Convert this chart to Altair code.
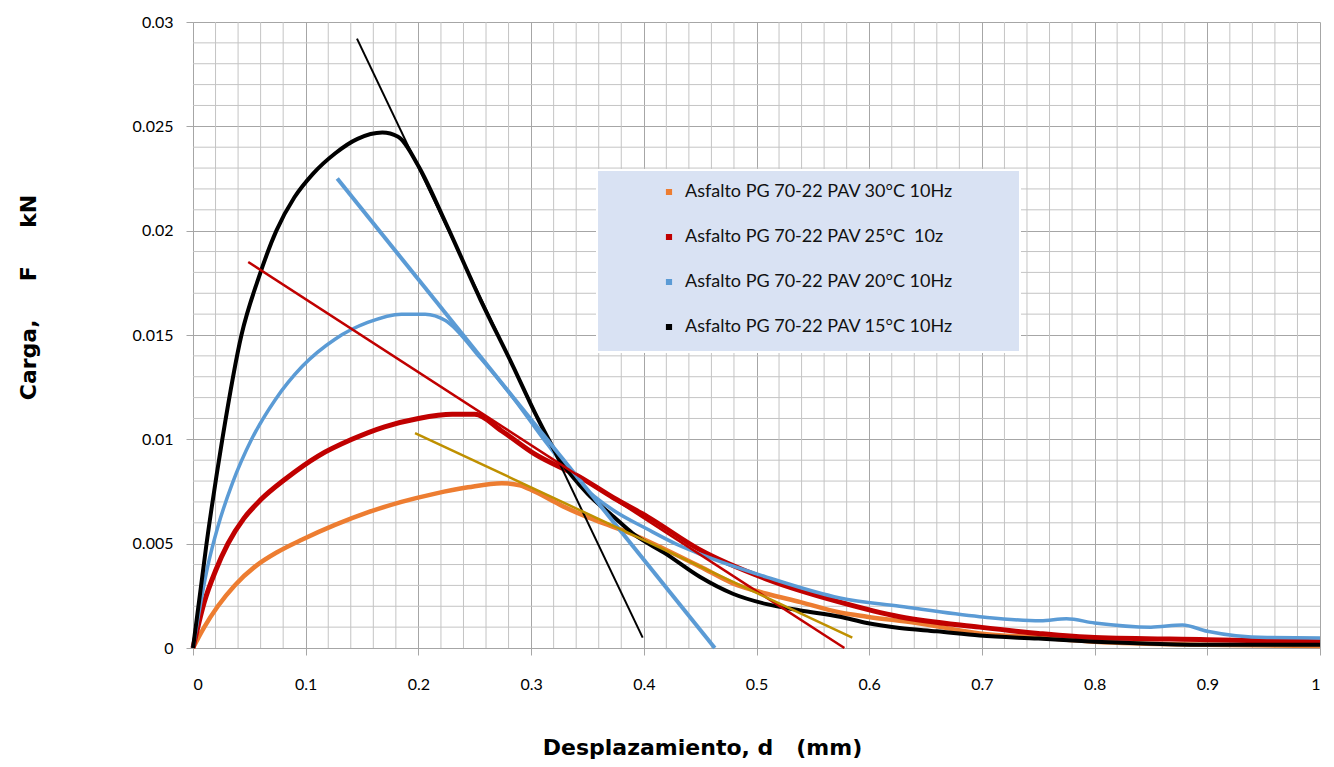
import altair as alt
import pandas as pd
import numpy as np

# ---- data ----
series_names = [
    "Asfalto PG 70-22 PAV 30°C 10Hz",
    "Asfalto PG 70-22 PAV 25°C\u00a0 10z",
    "Asfalto PG 70-22 PAV 20°C 10Hz",
    "Asfalto PG 70-22 PAV 15°C 10Hz",
]
series_colors = ["#ED7D31", "#C00000", "#5B9BD5", "#000000"]

x30 = [0, 0.01, 0.022, 0.037, 0.055, 0.075, 0.097, 0.126, 0.155, 0.185, 0.215, 0.244, 0.274, 0.29, 0.303, 0.328,
       0.358, 0.388, 0.42, 0.45, 0.479, 0.509, 0.539, 0.574, 0.598, 0.642, 0.698, 0.75, 0.8, 0.9, 1.0]
y30 = [0, 0.0010, 0.0020, 0.0030, 0.0039, 0.0046, 0.0052, 0.0059, 0.0065, 0.0070, 0.0074, 0.0077, 0.0079, 0.0078,
       0.0075, 0.0068, 0.0061, 0.0055, 0.0047, 0.0039, 0.0031, 0.0026, 0.0022, 0.0017, 0.0015, 0.0012, 0.0007,
       0.0005, 0.0003, 0.00015, 0.0001]

x25 = [0, 0.01, 0.02, 0.031, 0.045, 0.06, 0.082, 0.111, 0.141, 0.170, 0.2, 0.23, 0.25, 0.274, 0.303, 0.343, 0.373,
       0.403, 0.45, 0.509, 0.574, 0.627, 0.698, 0.75, 0.8, 0.9, 1.0]
y25 = [0, 0.0022, 0.0037, 0.0050, 0.0062, 0.0071, 0.0081, 0.0092, 0.0100, 0.0106, 0.0110, 0.0112, 0.0112, 0.0104,
       0.0093, 0.0082, 0.0072, 0.0063, 0.0047, 0.0033, 0.0022, 0.0015, 0.0010, 0.0007, 0.0005, 0.0004, 0.0003]

x20 = [0, 0.004, 0.013, 0.022, 0.035, 0.052, 0.073, 0.097, 0.126, 0.155, 0.185, 0.206, 0.224, 0.255, 0.284, 0.314,
       0.343, 0.373, 0.403, 0.432, 0.45, 0.509, 0.574, 0.627, 0.698, 0.752, 0.775, 0.8, 0.85, 0.878, 0.9, 0.953, 1.0]
y20 = [0, 0.0013, 0.0039, 0.0058, 0.0079, 0.0100, 0.0119, 0.0135, 0.0148, 0.0156, 0.0160, 0.0160, 0.0157, 0.0139,
       0.0120, 0.0098, 0.0079, 0.0066, 0.0057, 0.0049, 0.0045, 0.0034, 0.0024, 0.0020, 0.0015, 0.0013, 0.0014,
       0.0012, 0.0010, 0.0011, 0.0008, 0.0005, 0.00048]

x15 = [0, 0.012, 0.026, 0.043, 0.058, 0.074, 0.09, 0.106, 0.126, 0.146, 0.168, 0.182, 0.2, 0.224, 0.255,
       0.284, 0.305, 0.326, 0.35, 0.373, 0.39, 0.42, 0.45, 0.479, 0.509, 0.539, 0.574, 0.598, 0.627, 0.66, 0.698,
       0.75, 0.8, 0.85, 0.9, 0.95, 1.0]
y15 = [0, 0.0050, 0.0100, 0.0150, 0.0177, 0.0200, 0.0216, 0.0227, 0.0237, 0.0244, 0.0247, 0.0245, 0.0231,
       0.0204, 0.0167, 0.0135, 0.0111, 0.0090, 0.0074, 0.0063, 0.0055, 0.0045, 0.0034, 0.0026, 0.0021, 0.0018,
       0.0015, 0.0012, 0.00096, 0.0008, 0.0006, 0.00045, 0.0003, 0.0002, 0.00015, 0.00015, 0.00015]

# tangent (trend) lines: start / end points
trend_x1 = [0.1455, 0.128, 0.049, 0.197]
trend_y1 = [0.0292, 0.0225, 0.0185, 0.0103]
trend_x2 = [0.399, 0.463, 0.578, 0.585]
trend_y2 = [0.0005, 0.0, 0.0, 0.0005]
trend_colors = ["#000000", "#5B9BD5", "#C00000", "#BF9000"]
trend_widths = [2, 4, 2.5, 2.5]

x_ticks = [0, 0.1, 0.2, 0.3, 0.4, 0.5, 0.6, 0.7, 0.8, 0.9, 1.0]
y_ticks = [0, 0.005, 0.01, 0.015, 0.02, 0.025, 0.03]
x_minor = [round(v, 3) for v in np.arange(0.02, 1.0, 0.02) if round(v * 50) % 5 != 0]
y_minor = [round(v, 4) for v in np.arange(0.001, 0.03, 0.001) if round(v * 1000) % 5 != 0]

W, H = 1127, 626

frames = []
for name, xs, ys in zip(series_names, [x30, x25, x20, x15], [y30, y25, y20, y15]):
    frames.append(pd.DataFrame({"d": xs, "F": ys, "serie": name}))
df = pd.concat(frames, ignore_index=True)

xscale = alt.Scale(domain=[0, 1], nice=False, zero=False)
yscale = alt.Scale(domain=[0, 0.03], nice=False, zero=False)

color = alt.Color(
    "serie:N",
    scale=alt.Scale(domain=series_names, range=series_colors),
    legend=alt.Legend(
        orient="none", legendX=467, legendY=161, title=None,
        symbolType="square", symbolSize=10, symbolStrokeWidth=3,
        labelFont="Lato", labelFontSize=18, labelColor="#111111",
        rowPadding=27, labelOffset=7, labelLimit=400,
    ),
)

x_enc = alt.X(
    "d:Q", scale=xscale,
    axis=alt.Axis(
        values=x_ticks, format="~g", title="Desplazamiento,\u00a0d\u00a0\u00a0\u00a0(mm)",
        grid=True, gridColor="#A6A6A6", gridWidth=1,
        domainColor="#A6A6A6", tickColor="#A6A6A6", tickSize=7,
        labelFont="Lato", labelFontSize=16, labelColor="#000000", labelPadding=21,
        titleFont="DejaVu Sans", titleFontSize=22, titleFontWeight="bold", titleColor="#000000",
        titleX=509, titleY=99, titleAlign="center", titleBaseline="middle",
    ),
)
y_enc = alt.Y(
    "F:Q", scale=yscale,
    axis=alt.Axis(
        values=y_ticks, format="~g",
        title="Carga,\u00a0\u00a0\u00a0\u00a0\u00a0F\u00a0\u00a0\u00a0\u00a0\u00a0kN",
        grid=True, gridColor="#A6A6A6", gridWidth=1,
        domainColor="#A6A6A6", tickColor="#A6A6A6", tickSize=7,
        labelFont="Lato", labelFontSize=16, labelColor="#000000", labelPadding=13,
        titleFont="DejaVu Sans", titleFontSize=22, titleFontWeight="bold", titleColor="#000000",
        titleX=-165, titleY=275, titleAngle=270, titleAlign="center", titleBaseline="middle",
    ),
)

minor_x = alt.Chart(pd.DataFrame({"d": x_minor})).mark_rule(color="#C4C4C4", strokeWidth=1).encode(
    x=alt.X("d:Q", scale=xscale))
minor_y = alt.Chart(pd.DataFrame({"F": y_minor})).mark_rule(color="#C4C4C4", strokeWidth=1).encode(
    y=alt.Y("F:Q", scale=yscale))

legend_box = alt.Chart(pd.DataFrame({"a": [0]})).mark_rect(fill="#D9E2F3", stroke="#FFFFFF", strokeWidth=2).encode(
    x=alt.value(404), x2=alt.value(827), y=alt.value(148), y2=alt.value(330))

widths = [4.5, 5, 3.5, 4]
lines = []
for name, w in zip(series_names, widths):
    lines.append(
        alt.Chart(df).transform_filter(alt.datum.serie == name)
        .mark_line(strokeWidth=w, interpolate="monotone")
        .encode(x=x_enc, y=y_enc, color=color, order=alt.Order("d:Q"))
    )

trends = []
for i in range(4):
    tdf = pd.DataFrame({"d": [trend_x1[i]], "F": [trend_y1[i]], "d2": [trend_x2[i]], "F2": [trend_y2[i]]})
    trends.append(
        alt.Chart(tdf).mark_rule(color=trend_colors[i], strokeWidth=trend_widths[i]).encode(
            x=alt.X("d:Q", scale=xscale), y=alt.Y("F:Q", scale=yscale), x2="d2:Q", y2="F2:Q")
    )

chart = alt.layer(minor_x, minor_y, legend_box, *lines, *trends).properties(
    width=W, height=H,
    autosize=alt.AutoSizeParams(type="none"),
    padding={"left": 185, "top": 14, "right": 4, "bottom": 111},
    background="#FFFFFF",
).configure_view(stroke=None)

chart.save("out.html", embed_options={"renderer": "svg", "actions": False})
